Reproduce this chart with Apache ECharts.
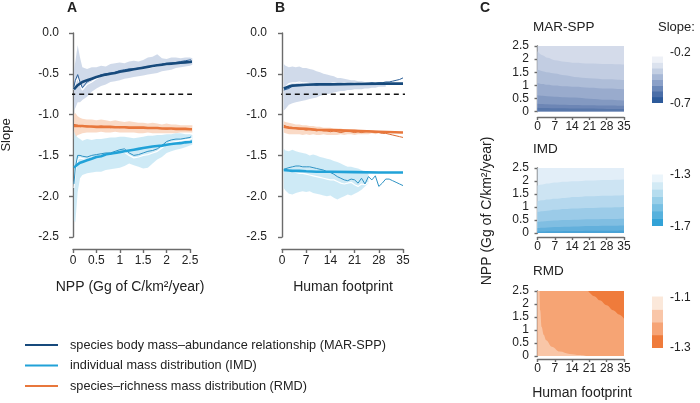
<!DOCTYPE html>
<html>
<head>
<meta charset="utf-8">
<script src="https://cdn.jsdelivr.net/npm/echarts@6/dist/echarts.min.js"></script>
<style>
  html, body { margin: 0; padding: 0; background: #fff; }
  #chart { width: 700px; height: 403px; }
</style>
</head>
<body>
<div id="chart"></div>
<script>
const FONT = '"Liberation Sans", Arial, sans-serif'

// ---- panel A: slope vs NPP ----
const nppX = [0.02, 0.05, 0.1, 0.15, 0.2, 0.3, 0.4, 0.5, 0.6, 0.7, 0.8, 0.9, 1.0, 1.1, 1.2, 1.3, 1.4, 1.5, 1.6, 1.7, 1.8, 1.9, 2.0, 2.1, 2.2, 2.3, 2.4, 2.5, 2.55]

const marFitA = [-0.69, -0.67, -0.64, -0.62, -0.60, -0.58, -0.56, -0.54, -0.525, -0.51, -0.50, -0.49, -0.475, -0.465, -0.455, -0.445, -0.435, -0.425, -0.415, -0.405, -0.395, -0.39, -0.38, -0.375, -0.37, -0.365, -0.36, -0.355, -0.35]
const marThinA = [-0.66, -0.58, -0.51, -0.60, -0.67, -0.60, -0.57, -0.54, -0.51, -0.50, -0.49, -0.48, -0.46, -0.45, -0.44, -0.44, -0.43, -0.42, -0.41, -0.41, -0.39, -0.38, -0.37, -0.37, -0.36, -0.35, -0.34, -0.33, -0.33]
const marWhiteA = [-0.70, -0.62, -0.55, -0.63, -0.70, -0.63, -0.60, -0.56, -0.53, -0.52, -0.50, -0.49, -0.47, -0.46, -0.45, -0.45, -0.44, -0.43, -0.43, -0.42, -0.40, -0.39, -0.39, -0.38, -0.37, -0.36, -0.35, -0.34, -0.34]
const marHiA = [-0.45, -0.35, -0.15, -0.30, -0.42, -0.44, -0.42, -0.42, -0.40, -0.41, -0.38, -0.37, -0.36, -0.37, -0.35, -0.34, -0.35, -0.33, -0.30, -0.29, -0.26, -0.31, -0.32, -0.30, -0.30, -0.31, -0.30, -0.30, -0.31]
const marLoA = [-0.95, -0.92, -0.85, -0.85, -0.82, -0.78, -0.72, -0.68, -0.65, -0.63, -0.60, -0.59, -0.58, -0.56, -0.55, -0.54, -0.53, -0.52, -0.51, -0.50, -0.49, -0.47, -0.46, -0.45, -0.43, -0.42, -0.41, -0.40, -0.39]

const imdFitA = [-1.65, -1.63, -1.61, -1.59, -1.58, -1.56, -1.54, -1.52, -1.51, -1.49, -1.48, -1.47, -1.46, -1.45, -1.44, -1.43, -1.42, -1.41, -1.40, -1.39, -1.385, -1.38, -1.37, -1.36, -1.355, -1.35, -1.34, -1.335, -1.33]
const imdThinA = [-1.85, -1.65, -1.50, -1.50, -1.51, -1.52, -1.50, -1.49, -1.48, -1.47, -1.47, -1.45, -1.43, -1.42, -1.47, -1.50, -1.49, -1.47, -1.45, -1.44, -1.42, -1.38, -1.33, -1.31, -1.30, -1.30, -1.29, -1.28, -1.26]
const imdWhiteA = [-1.90, -1.70, -1.55, -1.53, -1.54, -1.55, -1.53, -1.52, -1.50, -1.50, -1.49, -1.48, -1.47, -1.46, -1.50, -1.53, -1.52, -1.50, -1.49, -1.47, -1.45, -1.41, -1.36, -1.34, -1.33, -1.32, -1.31, -1.30, -1.29]
const imdHiA = [-1.20, -1.25, -1.28, -1.30, -1.32, -1.30, -1.31, -1.30, -1.30, -1.29, -1.28, -1.28, -1.27, -1.27, -1.28, -1.29, -1.28, -1.27, -1.26, -1.26, -1.25, -1.25, -1.24, -1.24, -1.23, -1.23, -1.24, -1.24, -1.25]
const imdLoA = [-2.30, -2.32, -1.95, -1.78, -1.74, -1.72, -1.71, -1.70, -1.70, -1.68, -1.67, -1.66, -1.65, -1.63, -1.60, -1.62, -1.64, -1.66, -1.65, -1.60, -1.55, -1.52, -1.47, -1.45, -1.43, -1.42, -1.40, -1.38, -1.37]

const rmdFitA = [-1.14, -1.14, -1.14, -1.14, -1.14, -1.145, -1.145, -1.15, -1.15, -1.15, -1.15, -1.155, -1.155, -1.155, -1.16, -1.16, -1.16, -1.16, -1.165, -1.165, -1.165, -1.17, -1.17, -1.17, -1.175, -1.175, -1.175, -1.18, -1.18]
const rmdThinA = [-1.12, -1.14, -1.13, -1.15, -1.14, -1.14, -1.15, -1.15, -1.14, -1.15, -1.16, -1.15, -1.16, -1.15, -1.16, -1.17, -1.16, -1.16, -1.17, -1.16, -1.17, -1.17, -1.18, -1.17, -1.18, -1.18, -1.17, -1.18, -1.19]
const rmdHiA = [-1.00, -0.98, -1.02, -1.04, -1.05, -1.06, -1.06, -1.07, -1.06, -1.07, -1.08, -1.07, -1.08, -1.09, -1.08, -1.09, -1.10, -1.10, -1.11, -1.10, -1.11, -1.12, -1.11, -1.12, -1.12, -1.13, -1.13, -1.13, -1.13]
const rmdLoA = [-1.30, -1.28, -1.25, -1.24, -1.23, -1.22, -1.22, -1.22, -1.21, -1.22, -1.22, -1.21, -1.22, -1.22, -1.22, -1.22, -1.23, -1.23, -1.22, -1.23, -1.23, -1.23, -1.23, -1.23, -1.23, -1.22, -1.22, -1.22, -1.22]

// ---- panel B: slope vs human footprint ----
const fpFitX = [0.5, 1, 2, 3, 5, 7, 10, 14, 21, 28, 35]
const fpX = [0.5, 1, 2, 3, 4, 5, 6, 7, 8, 9, 10, 11, 12, 13, 14, 15, 16, 17, 18, 19, 20, 21, 22, 23, 24, 25, 26, 27, 28, 29, 30, 31, 32, 33, 34, 35]
const fpBandX = [0.5, 1, 2, 3, 4, 5, 6, 7, 8, 9, 10, 11, 12, 13, 14, 15, 16, 17, 18, 19, 20, 21, 22, 23, 24, 25, 26, 27, 28, 29, 30]
const fpImdBandX = [0.5, 1, 2, 3, 4, 5, 6, 7, 8, 9, 10, 11, 12, 13, 14, 15, 16, 17, 18, 19, 20, 21, 22, 23, 24, 25]

const marFitB = [-0.68, -0.67, -0.655, -0.645, -0.64, -0.635, -0.63, -0.63, -0.625, -0.62, -0.62]
const marThinB = [-0.70, -0.72, -0.68, -0.65, -0.64, -0.64, -0.63, -0.64, -0.63, -0.63, -0.64, -0.63, -0.63, -0.62, -0.63, -0.63, -0.62, -0.63, -0.63, -0.62, -0.63, -0.62, -0.62, -0.63, -0.62, -0.62, -0.61, -0.62, -0.61, -0.61, -0.60, -0.60, -0.59, -0.58, -0.57, -0.55]
const marWhiteB = [-0.68, -0.66, -0.62, -0.61, -0.61, -0.60, -0.61, -0.61, -0.62, -0.62, -0.62, -0.63, -0.62, -0.62, -0.62, -0.61, -0.62, -0.62, -0.61, -0.62, -0.62, -0.61, -0.62, -0.61, -0.61, -0.62, -0.61, -0.61, -0.61, -0.60, -0.60, -0.60, -0.59, -0.59, -0.58, -0.57]
const marHiB = [-0.38, -0.40, -0.42, -0.41, -0.42, -0.41, -0.43, -0.43, -0.44, -0.45, -0.47, -0.48, -0.50, -0.51, -0.52, -0.53, -0.55, -0.55, -0.56, -0.57, -0.58, -0.58, -0.59, -0.59, -0.60, -0.60, -0.60, -0.61, -0.60, -0.61, -0.61]
const marLoB = [-0.95, -0.93, -0.88, -0.86, -0.85, -0.84, -0.83, -0.82, -0.81, -0.80, -0.79, -0.77, -0.76, -0.75, -0.74, -0.73, -0.72, -0.71, -0.71, -0.70, -0.70, -0.69, -0.69, -0.69, -0.68, -0.68, -0.67, -0.67, -0.66, -0.66, -0.66]

const rmdFitB = [-1.15, -1.155, -1.16, -1.165, -1.17, -1.175, -1.185, -1.19, -1.20, -1.21, -1.22]
const rmdThinB = [-1.13, -1.15, -1.16, -1.17, -1.17, -1.18, -1.18, -1.19, -1.18, -1.19, -1.20, -1.19, -1.20, -1.20, -1.21, -1.20, -1.21, -1.22, -1.21, -1.20, -1.21, -1.22, -1.21, -1.22, -1.21, -1.20, -1.21, -1.22, -1.22, -1.23, -1.23, -1.24, -1.25, -1.26, -1.27, -1.28]
const rmdHiB = [-1.08, -1.09, -1.10, -1.11, -1.12, -1.12, -1.13, -1.13, -1.14, -1.14, -1.15, -1.15, -1.16, -1.16, -1.16, -1.17, -1.17, -1.17, -1.18, -1.18, -1.18, -1.18, -1.19, -1.19, -1.19, -1.19, -1.19, -1.20, -1.20, -1.20, -1.20]
const rmdLoB = [-1.22, -1.23, -1.24, -1.24, -1.24, -1.24, -1.25, -1.24, -1.25, -1.24, -1.25, -1.25, -1.24, -1.25, -1.25, -1.25, -1.25, -1.24, -1.25, -1.24, -1.24, -1.25, -1.24, -1.24, -1.24, -1.24, -1.23, -1.24, -1.23, -1.23, -1.23]

const imdFitB = [-1.68, -1.68, -1.685, -1.69, -1.69, -1.695, -1.70, -1.70, -1.705, -1.71, -1.71]
const imdThinB = [-1.67, -1.66, -1.65, -1.64, -1.63, -1.63, -1.64, -1.64, -1.64, -1.65, -1.66, -1.67, -1.68, -1.70, -1.71, -1.73, -1.76, -1.78, -1.80, -1.81, -1.79, -1.80, -1.84, -1.78, -1.85, -1.76, -1.80, -1.75, -1.88, -1.84, -1.79, -1.79, -1.81, -1.83, -1.85, -1.87]
const imdWhiteB = [-1.70, -1.69, -1.68, -1.70, -1.71, -1.72, -1.72, -1.73, -1.74, -1.75, -1.76, -1.77, -1.78, -1.79, -1.80, -1.80, -1.82, -1.84, -1.85, -1.84, -1.83, -1.86, -1.88, -1.85, -1.86, -1.83]
const imdHiB = [-1.42, -1.44, -1.45, -1.43, -1.45, -1.46, -1.47, -1.48, -1.50, -1.49, -1.50, -1.52, -1.53, -1.54, -1.55, -1.57, -1.58, -1.60, -1.62, -1.64, -1.64, -1.65, -1.66, -1.68, -1.70, -1.72]
const imdLoB = [-1.90, -1.93, -1.97, -1.98, -1.96, -1.95, -1.94, -1.95, -1.94, -1.96, -1.97, -1.98, -1.99, -2.00, -1.99, -2.02, -2.04, -2.02, -2.00, -1.98, -1.99, -1.97, -1.95, -1.92, -1.88, -1.84]

const refSlope = -0.75

// ---- panel C: contour band boundaries (NPP at given footprint) ----
const ctrX = [0, 2, 4, 7, 11, 15, 21, 28, 35]
const marCtr = [
  [2.30, 2.15, 2.05, 1.96, 1.90, 1.86, 1.83, 1.81, 1.79],
  [1.60, 1.54, 1.50, 1.45, 1.38, 1.32, 1.27, 1.23, 1.20],
  [1.09, 1.05, 1.02, 0.99, 0.96, 0.94, 0.91, 0.88, 0.85],
  [0.62, 0.60, 0.58, 0.56, 0.54, 0.53, 0.49, 0.45, 0.42],
  [0.30, 0.29, 0.28, 0.27, 0.26, 0.25, 0.24, 0.23, 0.22],
  [0.14, 0.13, 0.13, 0.12, 0.12, 0.11, 0.11, 0.10, 0.10]
]
const imdCtr = [
  [1.83, 1.87, 1.90, 1.94, 1.97, 1.99, 2.02, 2.04, 2.06],
  [1.22, 1.26, 1.29, 1.32, 1.35, 1.38, 1.41, 1.43, 1.45],
  [0.81, 0.84, 0.86, 0.89, 0.92, 0.94, 0.96, 0.98, 1.00],
  [0.42, 0.44, 0.46, 0.48, 0.50, 0.51, 0.53, 0.54, 0.55],
  [0.19, 0.20, 0.21, 0.23, 0.24, 0.25, 0.27, 0.28, 0.29],
  [0.06, 0.06, 0.07, 0.07, 0.08, 0.08, 0.09, 0.09, 0.10]
]
const rmdLightX = [0, 0.8, 1.1, 1.7, 2.5, 3.5, 5.8, 9, 13, 17, 20]
const rmdLight = [2.5, 2.5, 1.76, 1.12, 0.82, 0.61, 0.36, 0.17, 0.08, 0.04, 0]
const rmdDarkX = [20.5, 23, 25.2, 28, 30.6, 33, 35]
const rmdDark = [2.5, 2.3, 2.14, 1.95, 1.76, 1.6, 1.44]

const marShades = ['#d4dbea', '#c2cde2', '#aebdd8', '#99abcd', '#8399c1', '#6d86b5', '#5877aa']
const imdShades = ['#e2eef8', '#cde4f3', '#b5d8ee', '#9bcbe8', '#80bee2', '#63b0dc', '#4aa3d6']
const rmdShades = ['#f9c6a7', '#f6a474', '#ef7b3b']

// colour bars, bottom to top
const marBar = ['#2d5a9a', '#4a6ea8', '#6a87b8', '#8aa0c8', '#a7b8d6', '#c3cfe3', '#dbe2ee', '#eef1f7']
const imdBar = ['#32a2d7', '#56b1dd', '#78c0e3', '#98cfe9', '#b6ddef', '#d2eaf5', '#ebf5fb']
const rmdBar = ['#ef7b3b', '#f6a476', '#f9c6a8', '#fbe8da']

const NAME_MAR = 'species body mass–abundance relationship (MAR-SPP)'
const NAME_IMD = 'individual mass distribution (IMD)'
const NAME_RMD = 'species–richness mass distribution (RMD)'

const C_MAR = { fit: '#174a7c', thin: '#2c6099', band: '#c8d4e6' }
const C_IMD = { fit: '#21a2d8', thin: '#2f93c4', band: '#c6e6f4' }
const C_RMD = { fit: '#e8773c', thin: '#dc6c32', band: '#f9d3bc' }

const zip = (xs, ys) => xs.map((x, i) => [x, ys[i]])

const axisLineStyle = { color: '#6b6b6b', width: 1.4 }
const labelStyle = { color: '#222', fontFamily: FONT }

function slopeAxis (gi, offset) {
  return {
    gridIndex: gi, type: 'value', min: -2.5, max: 0, interval: 0.5, offset,
    axisLine: { show: true, lineStyle: axisLineStyle },
    axisTick: { show: true, length: 4, lineStyle: axisLineStyle },
    axisLabel: Object.assign({ fontSize: 12, margin: 8, formatter: v => v.toFixed(1) }, labelStyle),
    splitLine: { show: false }
  }
}

function xAxisOf (gi, max, interval, offset, margin, tick) {
  return {
    gridIndex: gi, type: 'value', min: 0, max, interval, position: 'bottom', offset,
    axisLine: { show: true, onZero: false, lineStyle: axisLineStyle },
    axisTick: { show: true, length: tick, lineStyle: axisLineStyle },
    axisLabel: Object.assign({ fontSize: 12, margin, formatter: v => String(v) }, labelStyle),
    splitLine: { show: false }
  }
}

function npAxis (gi) {
  return {
    gridIndex: gi, type: 'value', min: 0, max: 2.5, interval: 0.5, offset: 3.5,
    axisLine: { show: true, lineStyle: axisLineStyle },
    axisTick: { show: true, length: 3, lineStyle: axisLineStyle },
    axisLabel: Object.assign({ fontSize: 12, margin: 5, lineHeight: 12, formatter: v => String(v) }, labelStyle),
    splitLine: { show: false }
  }
}

function band (gi, xs, lo, hi, color) {
  return {
    type: 'custom', xAxisIndex: gi, yAxisIndex: gi, silent: true, clip: false, z: 1,
    data: [[xs[0], lo[0]]],
    renderItem: (params, api) => {
      const top = xs.map((x, i) => api.coord([x, hi[i]]))
      const bot = xs.map((x, i) => api.coord([x, lo[i]])).reverse()
      return { type: 'polygon', shape: { points: top.concat(bot) }, style: { fill: color, opacity: 0.85 } }
    }
  }
}

function line (gi, data, color, width, z, name) {
  return {
    type: 'line', name, xAxisIndex: gi, yAxisIndex: gi, data,
    symbol: 'none', showSymbol: false, clip: false, silent: true, z,
    lineStyle: { color, width }, itemStyle: { color }
  }
}

function layer (gi, xs, ys, color, origin) {
  return {
    type: 'line', xAxisIndex: gi, yAxisIndex: gi, data: zip(xs, ys),
    symbol: 'none', showSymbol: false, silent: true, smooth: 0.35, smoothMonotone: 'x',
    lineStyle: { width: 0, color }, areaStyle: { color, opacity: 1, origin }
  }
}

// colour bar: one step per index, drawn as rects on a 0..1 x 0..n grid
function colourBar (gi, colours) {
  return {
    type: 'custom', xAxisIndex: gi, yAxisIndex: gi, silent: true,
    data: colours.map((c, i) => [0, i]),
    renderItem: (params, api) => {
      const i = api.value(1)
      const p0 = api.coord([0, i])
      const p1 = api.coord([1, i + 1])
      return {
        type: 'rect',
        shape: { x: p0[0], y: p1[1] - 0.5, width: p1[0] - p0[0], height: p0[1] - p1[1] + 0.5 },
        style: { fill: colours[i] }
      }
    }
  }
}

const series = []

// panel A
series.push(band(0, nppX, marLoA, marHiA, C_MAR.band))
series.push(band(0, nppX, rmdLoA, rmdHiA, C_RMD.band))
series.push(band(0, nppX, imdLoA, imdHiA, C_IMD.band))
series.push(line(0, zip(nppX, marWhiteA), '#ffffff', 1.2, 3))
series.push(line(0, zip(nppX, imdWhiteA), '#ffffff', 1.2, 3))
series.push(line(0, zip(nppX, marThinA), C_MAR.thin, 1, 4))
series.push(line(0, zip(nppX, imdThinA), C_IMD.thin, 1, 4))
series.push(line(0, zip(nppX, rmdThinA), C_RMD.thin, 1, 4))
series.push(line(0, zip(nppX, marFitA), C_MAR.fit, 2.6, 5, NAME_MAR))
series.push(line(0, zip(nppX, imdFitA), C_IMD.fit, 2.6, 5, NAME_IMD))
series.push(line(0, zip(nppX, rmdFitA), C_RMD.fit, 2.6, 5, NAME_RMD))
series.push(Object.assign(line(0, [[-0.06, refSlope], [2.76, refSlope]], '#111', 1.5, 6),
  { lineStyle: { color: '#111', width: 1.5, type: [5, 4] } }))

// panel B
series.push(band(1, fpBandX, marLoB, marHiB, C_MAR.band))
series.push(band(1, fpBandX, rmdLoB, rmdHiB, C_RMD.band))
series.push(band(1, fpImdBandX, imdLoB, imdHiB, C_IMD.band))
series.push(line(1, zip(fpX, marWhiteB), '#ffffff', 1.2, 3))
series.push(line(1, zip(fpImdBandX, imdWhiteB), '#ffffff', 1.2, 3))
series.push(line(1, zip(fpX, marThinB), C_MAR.thin, 1, 4))
series.push(line(1, zip(fpX, imdThinB), C_IMD.thin, 1, 4))
series.push(line(1, zip(fpX, rmdThinB), C_RMD.thin, 1, 4))
series.push(line(1, zip(fpFitX, marFitB), C_MAR.fit, 2.6, 5, NAME_MAR))
series.push(line(1, zip(fpFitX, imdFitB), C_IMD.fit, 2.6, 5, NAME_IMD))
series.push(line(1, zip(fpFitX, rmdFitB), C_RMD.fit, 2.6, 5, NAME_RMD))
series.push(Object.assign(line(1, [[-1.5, refSlope], [37, refSlope]], '#111', 1.5, 6),
  { lineStyle: { color: '#111', width: 1.5, type: [5, 4] } }))

// panel C contour layers (painted top colour first, darker layers over it)
series.push(layer(2, [0, 35], [2.5, 2.5], marShades[0], 'start'))
marCtr.forEach((b, i) => series.push(layer(2, ctrX, b, marShades[i + 1], 'start')))
series.push(layer(3, [0, 35], [2.5, 2.5], imdShades[0], 'start'))
imdCtr.forEach((b, i) => series.push(layer(3, ctrX, b, imdShades[i + 1], 'start')))
series.push(layer(4, [0, 35], [2.5, 2.5], rmdShades[1], 'start'))
series.push(layer(4, rmdLightX, rmdLight, rmdShades[0], 'start'))
series.push(layer(4, rmdDarkX, rmdDark, rmdShades[2], 'end'))

// colour bars
series.push(colourBar(5, marBar))
series.push(colourBar(6, imdBar))
series.push(colourBar(7, rmdBar))

const grids = [
  { left: 73, top: 33, width: 117, height: 204 },
  { left: 282, top: 33, width: 121, height: 204 },
  { left: 537.5, top: 46, width: 86.5, height: 65.5 },
  { left: 537.5, top: 168, width: 86.5, height: 65 },
  { left: 537.5, top: 291, width: 86.5, height: 65 },
  { left: 652, top: 57, width: 11, height: 46 },
  { left: 652, top: 175, width: 11, height: 51 },
  { left: 652, top: 297, width: 11, height: 51 }
].map(g => Object.assign({ containLabel: false, outerBoundsMode: 'none' }, g))

const hidden = (gi, max) => ({ gridIndex: gi, show: false, type: 'value', min: 0, max })

const xAxes = [
  xAxisOf(0, 2.5, 0.5, 12, 6, 4),
  xAxisOf(1, 35, 7, 12, 6, 4),
  xAxisOf(2, 35, 7, 5.5, 4, 3),
  xAxisOf(3, 35, 7, 4, 4, 3),
  xAxisOf(4, 35, 7, 3, 4, 3),
  hidden(5, 1), hidden(6, 1), hidden(7, 1)
]
const yAxes = [
  slopeAxis(0, 6),
  slopeAxis(1, 7),
  npAxis(2), npAxis(3), npAxis(4),
  hidden(5, marBar.length), hidden(6, imdBar.length), hidden(7, rmdBar.length)
]

function txt (text, x, y, size, opts) {
  const o = opts || {}
  return {
    type: 'text', x, y, rotation: o.rot || 0, silent: true, z: 100,
    style: {
      text, fill: '#222',
      font: (o.bold ? 'bold ' : '') + size + 'px ' + FONT,
      align: o.align || 'center', verticalAlign: 'middle',
      textAlign: o.align || 'center', textVerticalAlign: 'middle'
    }
  }
}

const graphic = [
  txt('A', 72, 8, 14, { bold: true }),
  txt('B', 280, 8, 14, { bold: true }),
  txt('C', 485, 8, 14, { bold: true }),
  txt('Slope', 6, 135, 13, { rot: Math.PI / 2 }),
  txt('NPP (Gg of C/km²/year)', 130, 287, 14),
  txt('Human footprint', 343, 287, 14),
  txt('MAR-SPP', 533, 27, 13.5, { align: 'left' }),
  txt('IMD', 533, 149, 13.5, { align: 'left' }),
  txt('RMD', 533, 271, 13.5, { align: 'left' }),
  txt('Slope:', 658, 27, 13, { align: 'left' }),
  txt('-0.2', 670, 53, 12, { align: 'left' }),
  txt('-0.7', 670, 104, 12, { align: 'left' }),
  txt('-1.3', 670, 175, 12, { align: 'left' }),
  txt('-1.7', 670, 227, 12, { align: 'left' }),
  txt('-1.1', 670, 298, 12, { align: 'left' }),
  txt('-1.3', 670, 348, 12, { align: 'left' }),
  txt('NPP (Gg of C/km²/year)', 487, 211, 14, { rot: Math.PI / 2 }),
  txt('Human footprint', 582, 393, 14)
]

const chart = echarts.init(document.getElementById('chart'), null, { renderer: 'canvas' })
chart.setOption({
  animation: false,
  backgroundColor: '#fff',
  textStyle: { fontFamily: FONT },
  grid: grids,
  xAxis: xAxes,
  yAxis: yAxes,
  legend: {
    data: [NAME_MAR, NAME_IMD, NAME_RMD],
    left: 25, top: 338, orient: 'vertical', padding: 0,
    icon: 'rect', itemWidth: 33, itemHeight: 2, itemGap: 6.5,
    selectedMode: false,
    textStyle: { fontSize: 12.7, color: '#222', fontFamily: FONT, lineHeight: 14, padding: [0, 0, 0, 7] }
  },
  graphic,
  series
})
</script>
</body>
</html>
